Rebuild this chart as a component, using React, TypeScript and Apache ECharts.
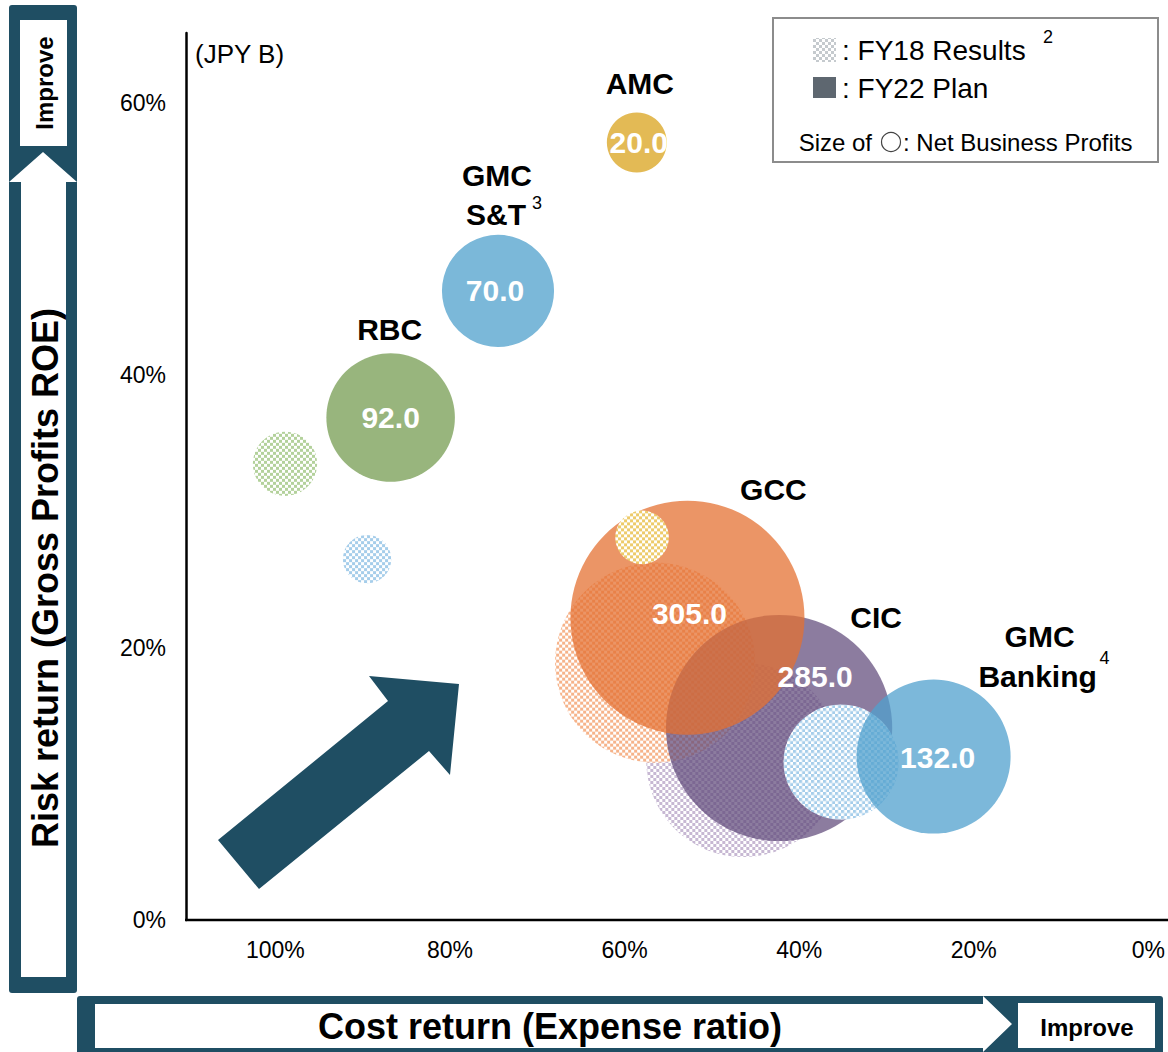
import React, { useEffect, useRef } from "react";
import * as echarts from "echarts";

// ---------- data ----------
const segments = ["RBC", "GMC S&T", "AMC", "GCC", "CIC", "GMC Banking"];
// FY22 Plan
const fy22Expense = [86.8, 74.5, 58.6, 52.8, 42.3, 24.6];
const fy22ROE = [36.9, 46.2, 57.1, 22.2, 14.1, 12.0];
const fy22Profit = [92.0, 70.0, 20.0, 305.0, 285.0, 132.0];
// FY18 Results
const fy18Expense = [98.9, 89.5, 58.0, 56.5, 46.4, 35.2];
const fy18ROE = [33.5, 26.5, 28.1, 18.9, 11.75, 11.6];
const fy18Profit = [23, 13, 16, 223, 210, 74];
// axis ticks
const xTickValues = [0, 20, 40, 60, 80, 100];
const yTickValues = [0, 20, 40, 60];

// ---------- styles ----------
const FONT = '"Liberation Sans", Arial, sans-serif';
const TEAL = "#1F4E63";
const SIZE_K = 13.4; // diameter per sqrt(profit)
const planColors = [
  "#98B57D",
  "#7BB8D9",
  "#E3BA55",
  "rgba(228,112,48,0.74)",
  "rgba(96,73,122,0.72)",
  "rgba(80,160,205,0.75)",
];
const checkerColors = ["#B3D19B", "#A5CDEA", "#EDCB6A", "#F6B38A", "#C7B8D3", "#A5CDEA"];
// draw order: [segment index, period]
const drawOrder: [number, string][] = [
  [4, "fy18"],
  [3, "fy18"],
  [4, "fy22"],
  [3, "fy22"],
  [5, "fy18"],
  [5, "fy22"],
  [0, "fy18"],
  [0, "fy22"],
  [1, "fy18"],
  [1, "fy22"],
  [2, "fy22"],
  [2, "fy18"],
];
const valueLabelOffsets = [
  [0, 0],
  [-3, 0],
  [2, 0],
  [2, -4],
  [36, -52],
  [4, 1],
];
const nameLabels = [
  { text: "RBC", seg: 0, dx: -1, dy: -88 },
  { text: "GMC", seg: 1, dx: -1, dy: -115 },
  { text: "S&T", seg: 1, dx: -2, dy: -76 },
  { text: "AMC", seg: 2, dx: 3, dy: -59 },
  { text: "GCC", seg: 3, dx: 86, dy: -128 },
  { text: "CIC", seg: 4, dx: 97, dy: -111 },
  { text: "GMC", seg: 5, dx: 106, dy: -120 },
  { text: "Banking", seg: 5, dx: 104, dy: -80 },
];
const superLabels = [
  { text: "3", seg: 1, dx: 39, dy: -88 },
  { text: "4", seg: 5, dx: 171, dy: -99 },
];

function makeChecker(color: string, scale = 1, cell = 3) {
  const c = document.createElement("canvas");
  c.width = cell * 2;
  c.height = cell * 2;
  const ctx = c.getContext("2d")!;
  ctx.fillStyle = "#ffffff";
  ctx.fillRect(0, 0, cell * 2, cell * 2);
  ctx.fillStyle = color;
  ctx.fillRect(0, 0, cell, cell);
  ctx.fillRect(cell, cell, cell, cell);
  return {
    image: c.toDataURL(),
    repeat: "repeat",
    imageWidth: cell * 2,
    imageHeight: cell * 2,
    scaleX: scale,
    scaleY: scale,
  } as any;
}

export default function App() {
  const ref = useRef<HTMLDivElement>(null);

  useEffect(() => {
    document.body.style.margin = "0";
    if (!ref.current) return;
    const chart = echarts.init(ref.current, undefined, { renderer: "svg" });

    const legendPattern = makeChecker("#C5CACE");

    const bubbleSeries = drawOrder.map(([i, period]) => {
      const isPlan = period === "fy22";
      const x = isPlan ? fy22Expense[i] : fy18Expense[i];
      const y = isPlan ? fy22ROE[i] : fy18ROE[i];
      const p = isPlan ? fy22Profit[i] : fy18Profit[i];
      const d = SIZE_K * Math.sqrt(p);
      return {
        type: "scatter",
        name: `${segments[i]} ${isPlan ? "FY22 Plan" : "FY18 Results"}`,
        silent: true,
        data: [[x, y, p]],
        symbol: "circle",
        symbolSize: (v: number[]) => SIZE_K * Math.sqrt(v[2]),
        itemStyle: {
          // the circle symbol is a unit path scaled by size/2, so undo that for the pattern
          color: isPlan ? planColors[i] : makeChecker(checkerColors[i], 2 / d),
          borderWidth: 0,
          opacity: 1,
        },
        emphasis: { disabled: true },
        z: 2,
      };
    });

    const valueSeries = {
      type: "scatter",
      name: "values",
      silent: true,
      z: 5,
      symbol: "circle",
      symbolSize: 1,
      itemStyle: { color: "rgba(0,0,0,0)" },
      emphasis: { disabled: true },
      data: segments.map((s, i) => ({
        name: s,
        value: [fy22Expense[i], fy22ROE[i], fy22Profit[i]],
        label: { offset: valueLabelOffsets[i] },
      })),
      label: {
        show: true,
        position: "inside",
        formatter: (p: any) => Number(p.value[2]).toFixed(1),
        color: "#ffffff",
        opacity: 1,
        fontWeight: "bold",
        fontSize: 30,
        fontFamily: FONT,
      },
    };

    const option: any = {
      animation: false,
      backgroundColor: "#ffffff",
      grid: { left: 186, right: 13, top: 33, bottom: 132, containLabel: false },
      xAxis: {
        type: "value",
        inverse: true,
        min: 0,
        max: 110.24,
        interval: 20,
        splitLine: { show: false },
        axisTick: { show: false },
        axisLine: { show: false },
        axisLabel: {
          showMaxLabel: false,
          margin: 18,
          color: "#000",
          fontSize: 23,
          fontFamily: FONT,
          formatter: (v: number) => (xTickValues.includes(v) ? `${v}%` : ""),
        },
      },
      yAxis: {
        type: "value",
        min: 0,
        max: 65.14,
        interval: 20,
        splitLine: { show: false },
        axisTick: { show: false },
        axisLine: { show: true, onZero: false, lineStyle: { color: "#000", width: 2.5 } },
        axisLabel: {
          showMaxLabel: false,
          margin: 20,
          color: "#000",
          fontSize: 23,
          fontFamily: FONT,
          formatter: (v: number) => (yTickValues.includes(v) ? `${v}%` : ""),
        },
      },
      series: [...bubbleSeries, valueSeries],
    };
    chart.setOption(option);

    const txt = (x: number, y: number, text: string, font: string, align = "center", rotation = 0, fill = "#000") => ({
      type: "text",
      x,
      y,
      rotation,
      z: 100,
      silent: true,
      style: { text, font, fill, align, verticalAlign: "middle" },
    });

    const nameGraphics = nameLabels.map((n) => {
      const [px, py] = chart.convertToPixel({ gridIndex: 0 }, [fy22Expense[n.seg], fy22ROE[n.seg]]) as number[];
      return txt(px + n.dx, py + n.dy, n.text, `bold 30px ${FONT}`);
    });
    const superGraphics = superLabels.map((n) => {
      const [px, py] = chart.convertToPixel({ gridIndex: 0 }, [fy22Expense[n.seg], fy22ROE[n.seg]]) as number[];
      return txt(px + n.dx, py + n.dy, n.text, `18px ${FONT}`);
    });
    const [ax0, ay0] = chart.convertToPixel({ gridIndex: 0 }, [110.24, 0]) as number[];

    const graphics: any[] = [
      // x-axis line, running to the right edge
      { type: "line", z: 50, silent: true, shape: { x1: ax0 - 1, y1: ay0, x2: 1168, y2: ay0 }, style: { stroke: "#000", lineWidth: 2.5 } },
      // left vertical box
      { type: "rect", z: 50, silent: true, shape: { x: 9, y: 5, width: 68, height: 988, r: 3 }, style: { fill: TEAL } },
      { type: "rect", z: 51, silent: true, shape: { x: 20, y: 20, width: 47, height: 126 }, style: { fill: "#fff" } },
      {
        type: "polygon",
        z: 51,
        silent: true,
        shape: { points: [[21, 977], [21, 182], [9, 182], [43, 152], [77, 182], [66, 182], [66, 977]] },
        style: { fill: "#fff" },
      },
      txt(44, 83, "Improve", `bold 24px ${FONT}`, "center", Math.PI / 2),
      txt(45, 578, "Risk return (Gross Profits ROE)", `bold 36px ${FONT}`, "center", Math.PI / 2),
      // bottom horizontal box
      { type: "rect", z: 50, silent: true, shape: { x: 77, y: 996, width: 1086, height: 62, r: 3 }, style: { fill: TEAL } },
      {
        type: "polygon",
        z: 51,
        silent: true,
        shape: { points: [[95, 1004], [983, 1004], [983, 996], [1012, 1024], [983, 1052], [983, 1048], [95, 1048]] },
        style: { fill: "#fff" },
      },
      { type: "rect", z: 51, silent: true, shape: { x: 1018, y: 1003, width: 137, height: 45 }, style: { fill: "#fff" } },
      txt(550, 1026, "Cost return (Expense ratio)", `bold 36px ${FONT}`),
      txt(1087, 1027, "Improve", `bold 24px ${FONT}`),
      // big diagonal arrow
      {
        type: "polygon",
        z: 50,
        silent: true,
        shape: { points: [[218, 840], [388, 701], [369, 676], [459, 684], [450, 775], [429, 751], [259, 889]] },
        style: { fill: TEAL },
      },
      // unit
      txt(195, 54, "(JPY B)", `26px ${FONT}`, "left"),
      // legend box
      { type: "rect", z: 50, silent: true, shape: { x: 773, y: 18, width: 385, height: 144 }, style: { fill: "#fff", stroke: "#8C8C8C", lineWidth: 2 } },
      { type: "rect", z: 51, silent: true, shape: { x: 813, y: 38, width: 23, height: 24 }, style: { fill: legendPattern } },
      txt(842, 50, ": FY18 Results", `28px ${FONT}`, "left"),
      txt(1048, 37, "2", `18px ${FONT}`),
      { type: "rect", z: 51, silent: true, shape: { x: 813, y: 77, width: 23, height: 21 }, style: { fill: "#5E6770" } },
      txt(842, 88, ": FY22 Plan", `28px ${FONT}`, "left"),
      txt(872, 142, "Size of", `24px ${FONT}`, "right"),
      { type: "circle", z: 51, silent: true, shape: { cx: 891, cy: 142, r: 9.5 }, style: { fill: "#fff", stroke: "#444", lineWidth: 1.2 } },
      txt(903, 142, ": Net Business Profits", `24px ${FONT}`, "left"),
      ...nameGraphics,
      ...superGraphics,
    ];
    chart.setOption({ graphic: graphics });

    return () => chart.dispose();
  }, []);

  return <div ref={ref} style={{ width: 1168, height: 1052 }} />;
}
